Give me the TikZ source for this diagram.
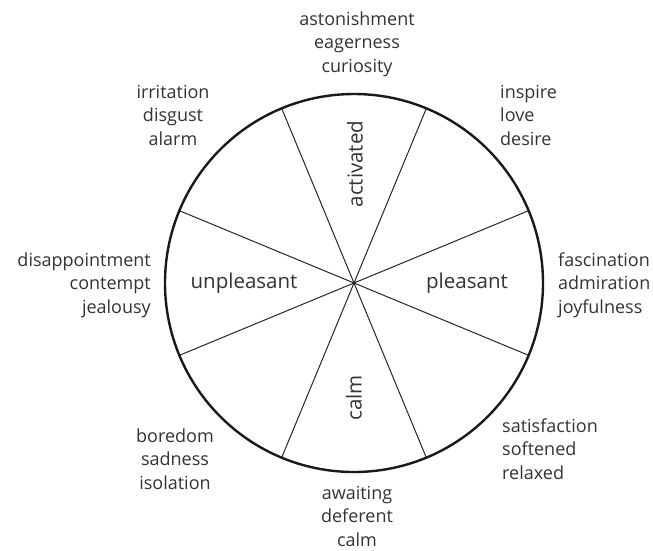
\documentclass[tikz,border=0pt]{standalone}
\usepackage{fontspec}
\setmainfont{Open Sans}
\usetikzlibrary{calc}
\begin{document}
\begin{tikzpicture}[x=1pt,y=-1pt,
  word/.style={font=\fontsize{18}{23.5}\selectfont, text=black!80, align=center, inner sep=0pt},
  wordl/.style={word, align=left},
  wordr/.style={word, align=right},
  sector/.style={font=\fontsize{20.5}{24}\selectfont, text=black!80, inner sep=0pt},
  spoke/.style={line width=1pt, black!85},
  rim/.style={line width=2.4pt, black!90}]
\useasboundingbox (0,0) rectangle (653,550);
\coordinate (c) at (354,283);
% four diameters splitting the wheel into eight sectors
\foreach \a in {22.5,67.5,112.5,157.5}
  \draw[spoke] ($(c)+(\a:189)$) -- ($(c)+(\a+180:189)$);
\draw[rim] (c) circle[radius=189];
% sector labels
\node[sector, rotate=90] (act) at (355,164) {activated};
\node[sector, rotate=90] (calm) at (354,398) {calm};
\node[sector] (unp) at (244,283) {unpleasant};
\node[sector] (ple) at (467,283) {pleasant};
% emotions around the wheel
\node[word] (n) at (357,44) {astonishment\\eagerness\\curiosity};
\node[word] (nw) at (173,115) {irritation\\disgust\\alarm};
\node[wordl, anchor=west] (ne) at (500,115) {inspire\\love\\desire};
\node[wordr, anchor=east] (w) at (151,285) {disappointment\\contempt\\jealousy};
\node[wordl, anchor=west] (e) at (558,285) {fascination\\admiration\\joyfulness};
\node[word] (sw) at (175,459) {boredom\\sadness\\isolation};
\node[wordl, anchor=west] (se) at (502,449) {satisfaction\\softened\\relaxed};
\node[word] (s) at (357,516) {awaiting\\deferent\\calm};
\end{tikzpicture}
\end{document}
